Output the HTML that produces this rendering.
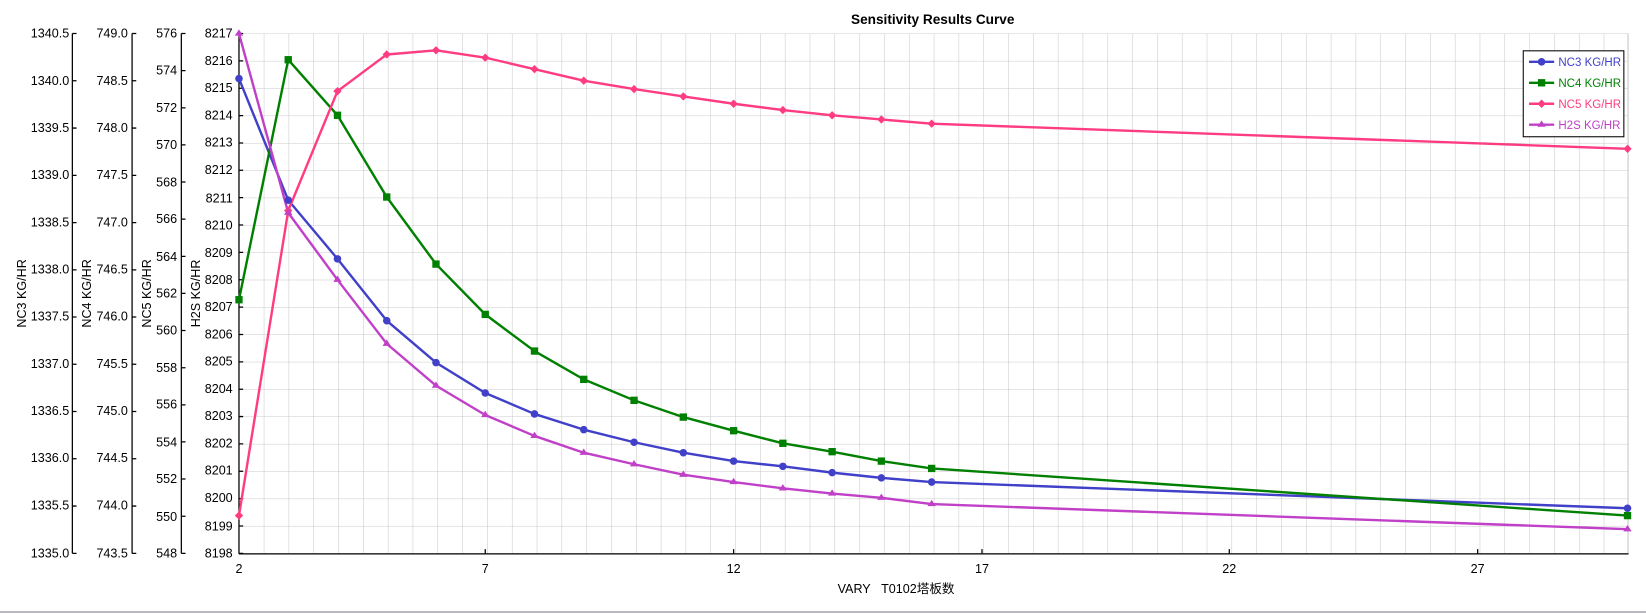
<!DOCTYPE html>
<html><head><meta charset="utf-8"><style>
html,body{margin:0;padding:0;background:#fff;}
svg{display:block;}
text{font-family:"Liberation Sans","Noto Sans CJK SC",sans-serif;font-size:12px;fill:#000;}
.lg{font-size:11px;}
</style></head><body>
<svg width="1646" height="614" viewBox="0 0 1570.6 585.9" xmlns="http://www.w3.org/2000/svg">
<defs>
<pattern id="gv" x="228" y="0" width="23.679" height="600" patternUnits="userSpaceOnUse"><line x1="0" y1="0" x2="0" y2="600" stroke="#c8c8c8" stroke-width="1"/></pattern>
<pattern id="gh" x="0" y="32" width="2000" height="26.105" patternUnits="userSpaceOnUse"><line x1="0" y1="0" x2="2000" y2="0" stroke="#c8c8c8" stroke-width="1"/></pattern>
</defs>
<rect x="228" y="32" width="1326" height="496" fill="url(#gv)"/>
<rect x="228" y="32" width="1326" height="497" fill="url(#gh)"/>
<line x1="1553.5" y1="32" x2="1553.5" y2="528" stroke="#c8c8c8"/>
<text x="890" y="23" text-anchor="middle" style="font-weight:bold;font-size:13px">Sensitivity Results Curve</text>

<g stroke="#000" stroke-width="1.2" fill="none">
<line x1="69" y1="32" x2="69" y2="528"/>
<line x1="126" y1="32" x2="126" y2="528"/>
<line x1="173" y1="32" x2="173" y2="528"/>
<line x1="228" y1="32" x2="228" y2="528.5"/>
<line x1="228" y1="528.5" x2="1554" y2="528.5"/>
<path d="M69 32h4M69 77.1h4M69 122.2h4M69 167.3h4M69 212.4h4M69 257.5h4M69 302.5h4M69 347.6h4M69 392.7h4M69 437.8h4M69 482.9h4M69 528h4"/>
<path d="M126 32h4M126 77.1h4M126 122.2h4M126 167.3h4M126 212.4h4M126 257.5h4M126 302.5h4M126 347.6h4M126 392.7h4M126 437.8h4M126 482.9h4M126 528h4"/>
<path d="M173 32h4M173 67.4h4M173 102.9h4M173 138.3h4M173 173.7h4M173 209.1h4M173 244.6h4M173 280h4M173 315.4h4M173 350.9h4M173 386.3h4M173 421.7h4M173 457.1h4M173 492.6h4M173 528h4"/>
<path d="M228 32h4M228 58.1h4M228 84.2h4M228 110.3h4M228 136.4h4M228 162.5h4M228 188.6h4M228 214.7h4M228 240.8h4M228 267h4M228 293.1h4M228 319.2h4M228 345.3h4M228 371.4h4M228 397.5h4M228 423.6h4M228 449.7h4M228 475.8h4M228 501.9h4M228 528h4"/>
<path d="M463 528v-4M700 528v-4M937 528v-4M1173 528v-4M1410 528v-4"/>
</g>
<g text-anchor="end">
<text x="66" y="36">1340.5</text><text x="66" y="81">1340.0</text><text x="66" y="126">1339.5</text><text x="66" y="171">1339.0</text><text x="66" y="216">1338.5</text><text x="66" y="261">1338.0</text><text x="66" y="306">1337.5</text><text x="66" y="351">1337.0</text><text x="66" y="396">1336.5</text><text x="66" y="441">1336.0</text><text x="66" y="486">1335.5</text><text x="66" y="532">1335.0</text>
<text x="122" y="36">749.0</text><text x="122" y="81">748.5</text><text x="122" y="126">748.0</text><text x="122" y="171">747.5</text><text x="122" y="216">747.0</text><text x="122" y="261">746.5</text><text x="122" y="306">746.0</text><text x="122" y="351">745.5</text><text x="122" y="396">745.0</text><text x="122" y="441">744.5</text><text x="122" y="486">744.0</text><text x="122" y="532">743.5</text>
<text x="169" y="36">576</text><text x="169" y="71">574</text><text x="169" y="107">572</text><text x="169" y="142">570</text><text x="169" y="178">568</text><text x="169" y="213">566</text><text x="169" y="249">564</text><text x="169" y="284">562</text><text x="169" y="319">560</text><text x="169" y="355">558</text><text x="169" y="390">556</text><text x="169" y="426">554</text><text x="169" y="461">552</text><text x="169" y="497">550</text><text x="169" y="532">548</text>
<text x="222" y="36">8217</text><text x="222" y="62">8216</text><text x="222" y="88">8215</text><text x="222" y="114">8214</text><text x="222" y="140">8213</text><text x="222" y="166">8212</text><text x="222" y="193">8211</text><text x="222" y="219">8210</text><text x="222" y="245">8209</text><text x="222" y="271">8208</text><text x="222" y="297">8207</text><text x="222" y="323">8206</text><text x="222" y="349">8205</text><text x="222" y="375">8204</text><text x="222" y="401">8203</text><text x="222" y="427">8202</text><text x="222" y="453">8201</text><text x="222" y="479">8200</text><text x="222" y="506">8199</text><text x="222" y="532">8198</text>
</g>
<g text-anchor="middle">
<text x="228" y="547">2</text><text x="463" y="547">7</text><text x="700" y="547">12</text><text x="937" y="547">17</text><text x="1173" y="547">22</text><text x="1410" y="547">27</text>
<text x="855" y="566">VARY&#160;&#160;&#160;T0102塔板数</text>
<text transform="translate(25,280) rotate(-90)">NC3 KG/HR</text>
<text transform="translate(87,280) rotate(-90)">NC4 KG/HR</text>
<text transform="translate(144,280) rotate(-90)">NC5 KG/HR</text>
<text transform="translate(191,280) rotate(-90)">H2S KG/HR</text>
</g>
<line x1="0" y1="584" x2="1571" y2="584" stroke="#a0a4a8" stroke-width="1.5"/>

<g fill="none" stroke-width="2.3" stroke-linejoin="round">
<polyline stroke="#4040c8" points="228,75 275,191 322,247 369,306 416,346 463,375 510,395 557,410 605,422 652,432 700,440 747,445 794,451 841,456 889,460 1553,485"/>
<polyline stroke="#008000" points="228,286 275,57 322,110 369,188 416,252 463,300 510,335 557,362 605,382 652,398 700,411 747,423 794,431 841,440 889,447 1553,492"/>
<polyline stroke="#ff3c82" points="228,492 275,201 322,87 369,52 416,48 463,55 510,66 557,77 605,85 652,92 700,99 747,105 794,110 841,114 889,118 1553,142"/>
<polyline stroke="#c040c8" points="228,32 275,203 322,267 369,328 416,368 463,396 510,416 557,432 605,443 652,453 700,460 747,466 794,471 841,475 889,481 1553,505"/>
</g>
<g fill="#4040c8">
<circle cx="228" cy="75" r="3.6"/><circle cx="275" cy="191" r="3.6"/><circle cx="322" cy="247" r="3.6"/><circle cx="369" cy="306" r="3.6"/><circle cx="416" cy="346" r="3.6"/><circle cx="463" cy="375" r="3.6"/><circle cx="510" cy="395" r="3.6"/><circle cx="557" cy="410" r="3.6"/><circle cx="605" cy="422" r="3.6"/><circle cx="652" cy="432" r="3.6"/><circle cx="700" cy="440" r="3.6"/><circle cx="747" cy="445" r="3.6"/><circle cx="794" cy="451" r="3.6"/><circle cx="841" cy="456" r="3.6"/><circle cx="889" cy="460" r="3.6"/><circle cx="1553" cy="485" r="3.6"/>
</g>
<g fill="#008000">
<rect x="224.5" y="282.5" width="7" height="7"/><rect x="271.5" y="53.5" width="7" height="7"/><rect x="318.5" y="106.5" width="7" height="7"/><rect x="365.5" y="184.5" width="7" height="7"/><rect x="412.5" y="248.5" width="7" height="7"/><rect x="459.5" y="296.5" width="7" height="7"/><rect x="506.5" y="331.5" width="7" height="7"/><rect x="553.5" y="358.5" width="7" height="7"/><rect x="601.5" y="378.5" width="7" height="7"/><rect x="648.5" y="394.5" width="7" height="7"/><rect x="696.5" y="407.5" width="7" height="7"/><rect x="743.5" y="419.5" width="7" height="7"/><rect x="790.5" y="427.5" width="7" height="7"/><rect x="837.5" y="436.5" width="7" height="7"/><rect x="885.5" y="443.5" width="7" height="7"/><rect x="1549.5" y="488.5" width="7" height="7"/>
</g>
<g fill="#ff3c82">
<path d="M228 488l4 4-4 4-4-4zM275 197l4 4-4 4-4-4zM322 83l4 4-4 4-4-4zM369 48l4 4-4 4-4-4zM416 44l4 4-4 4-4-4zM463 51l4 4-4 4-4-4zM510 62l4 4-4 4-4-4zM557 73l4 4-4 4-4-4zM605 81l4 4-4 4-4-4zM652 88l4 4-4 4-4-4zM700 95l4 4-4 4-4-4zM747 101l4 4-4 4-4-4zM794 106l4 4-4 4-4-4zM841 110l4 4-4 4-4-4zM889 114l4 4-4 4-4-4zM1553 138l4 4-4 4-4-4z"/>
</g>
<g fill="#c040c8">
<path d="M228 28l4 6h-8zM275 199l4 6h-8zM322 263l4 6h-8zM369 324l4 6h-8zM416 364l4 6h-8zM463 392l4 6h-8zM510 412l4 6h-8zM557 428l4 6h-8zM605 439l4 6h-8zM652 449l4 6h-8zM700 456l4 6h-8zM747 462l4 6h-8zM794 467l4 6h-8zM841 471l4 6h-8zM889 477l4 6h-8zM1553 501l4 6h-8z"/>
</g>

<rect x="1453.5" y="48.5" width="96" height="82" fill="#fff" stroke="#000" stroke-width="1"/>
<g stroke-width="2.3">
<line x1="1459" y1="59" x2="1483" y2="59" stroke="#4040c8"/><circle cx="1471" cy="59" r="3.6" fill="#4040c8"/>
<line x1="1459" y1="79" x2="1483" y2="79" stroke="#008000"/><rect x="1467.5" y="75.5" width="7" height="7" fill="#008000"/>
<line x1="1459" y1="99" x2="1483" y2="99" stroke="#ff3c82"/><path d="M1471 95l4 4-4 4-4-4z" fill="#ff3c82"/>
<line x1="1459" y1="119" x2="1483" y2="119" stroke="#c040c8"/><path d="M1471 115l4 6h-8z" fill="#c040c8"/>
</g>
<text class="lg" x="1487" y="63" style="fill:#4040c8">NC3 KG/HR</text>
<text class="lg" x="1487" y="83" style="fill:#008000">NC4 KG/HR</text>
<text class="lg" x="1487" y="103" style="fill:#ff3c82">NC5 KG/HR</text>
<text class="lg" x="1487" y="123" style="fill:#c040c8">H2S KG/HR</text>
</svg>
</body></html>
